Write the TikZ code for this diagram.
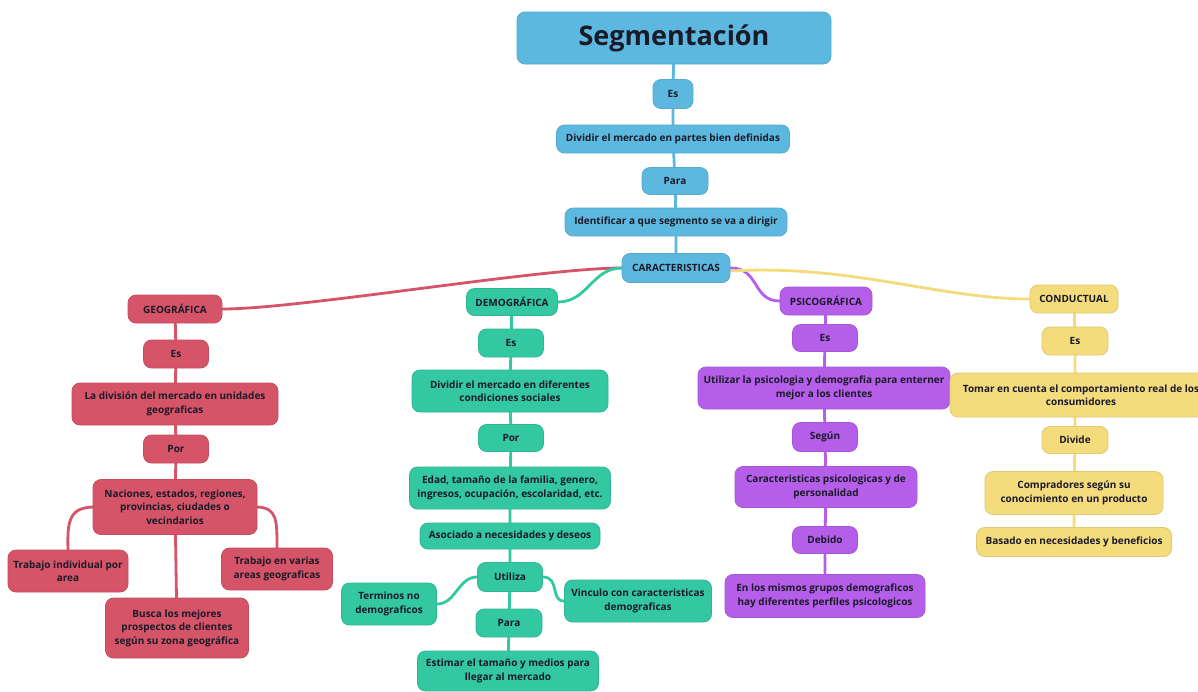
\documentclass[tikz,border=0pt]{standalone}
\usepackage{fontspec}
\setmainfont{Open Sans}
\usepackage{tikz}
\usetikzlibrary{backgrounds}
\definecolor{cBlue}{HTML}{5DB8DF}
\definecolor{cRed}{HTML}{D65468}
\definecolor{cGreen}{HTML}{33C7A2}
\definecolor{cPurple}{HTML}{B45EEA}
\definecolor{cYellow}{HTML}{F4DB7C}
\definecolor{cText}{HTML}{1A1A28}
\tikzset{
  box/.style   ={draw, rounded corners=8pt, align=center, inner sep=2pt, line width=0.8pt, text=cText, font=\fontsize{10}{13.5}\selectfont\bfseries},
  sz/.style 2 args={minimum width=#1pt, minimum height=#2pt},
  blu/.style   ={box, fill=cBlue, draw=cBlue!92!black},
  rd/.style    ={box, fill=cRed, draw=cRed!92!black},
  grn/.style   ={box, fill=cGreen, draw=cGreen!92!black},
  pur/.style   ={box, fill=cPurple, draw=cPurple!92!black},
  yel/.style   ={box, fill=cYellow, draw=cYellow!92!black},
  head/.style  ={font=\fontsize{10}{12}\selectfont\bfseries},
  lnk/.style   ={line width=2.8pt, line cap=round},
}

\begin{document}
\begin{tikzpicture}[x=1pt, y=-1pt]
  \useasboundingbox (0,0) rectangle (1198,691);
  % --- tronco: segmentacion ---
  \node[blu, sz={314}{52}, font=\fontsize{27}{30}\selectfont\bfseries] (seg) at (674,38) {Segmentación};
  \node[blu, sz={40}{29}] (bEs)   at (673,94)  {Es};
  \node[blu, sz={233}{28}] (bDiv) at (673,139) {Dividir el mercado en partes bien definidas};
  \node[blu, sz={66}{27}] (bPara) at (675,181) {Para};
  \node[blu, sz={222}{28}] (bIde) at (676,222) {Identificar a que segmento se va a dirigir};
  \node[blu, head, sz={108}{29}] (car) at (676,268) {CARACTERISTICAS};
  % --- geografica ---
  \node[rd, head, sz={94}{28}] (geo) at (175,309) {GEOGRÁFICA};
  \node[rd, sz={65}{28}]  (gEs)  at (176,354) {Es};
  \node[rd, sz={206}{42}] (gDiv) at (175,404) {La división del mercado en unidades\\geograficas};
  \node[rd, sz={65}{28}]  (gPor) at (176,449) {Por};
  \node[rd, sz={164}{55}] (gNac) at (175,507) {Naciones, estados, regiones,\\provincias, ciudades o\\vecindarios};
  \node[rd, sz={120}{42}] (gInd) at (68,571)  {Trabajo individual por\\area};
  \node[rd, sz={111}{42}] (gVar) at (277,569) {Trabajo en varias\\areas geograficas};
  \node[rd, sz={143}{60}] (gBus) at (177,628) {Busca los mejores\\prospectos de clientes\\según su zona geográfica};
  % --- demografica ---
  \node[grn, head, sz={91}{27}] (dem) at (512,302) {DEMOGRÁFICA};
  \node[grn, sz={65}{28}]  (dEs)  at (511,343) {Es};
  \node[grn, sz={196}{42}] (dDiv) at (510,391) {Dividir el mercado en diferentes\\condiciones sociales};
  \node[grn, sz={65}{27}]  (dPor) at (511,438) {Por};
  \node[grn, sz={201}{42}] (dEda) at (510,488) {Edad, tamaño de la familia, genero,\\ingresos, ocupación, escolaridad, etc.};
  \node[grn, sz={180}{26}] (dAso) at (510,536) {Asociado a necesidades y deseos};
  \node[grn, sz={65}{29}]  (dUti) at (510,577) {Utiliza};
  \node[grn, sz={95}{42}]  (dTer) at (389,604) {Terminos no\\demograficos};
  \node[grn, sz={147}{42}] (dVin) at (638,601) {Vinculo con caracteristicas\\demograficas};
  \node[grn, sz={66}{28}]  (dPara) at (509,623) {Para};
  \node[grn, sz={181}{40}] (dEst) at (508,671) {Estimar el tamaño y medios para\\llegar al mercado};
  % --- psicografica ---
  \node[pur, head, sz={92}{28}] (psi) at (826,301) {PSICOGRÁFICA};
  \node[pur, sz={65}{27}]  (pEs)  at (825,338) {Es};
  \node[pur, sz={252}{42}] (pUti) at (824,388) {Utilizar la psicologia y demografia para enterner\\mejor a los clientes};
  \node[pur, sz={65}{29}]  (pSeg) at (825,437) {Según};
  \node[pur, sz={182}{41}] (pCar) at (826,487) {Caracteristicas psicologicas y de\\personalidad};
  \node[pur, sz={65}{27}]  (pDeb) at (825,540) {Debido};
  \node[pur, sz={200}{43}] (pMis) at (825,596) {En los mismos grupos demograficos\\hay diferentes perfiles psicologicos};
  % --- conductual ---
  \node[yel, head, sz={88}{28}] (con) at (1074,299) {CONDUCTUAL};
  \node[yel, sz={66}{28}]  (cEs)  at (1075,341) {Es};
  \node[yel, sz={262}{44}] (cTom) at (1081,395) {Tomar en cuenta el comportamiento real de los\\consumidores};
  \node[yel, sz={66}{27}]  (cDiv) at (1075,440) {Divide};
  \node[yel, sz={178}{43}] (cCom) at (1074,493) {Compradores según su\\conocimiento en un producto};
  \node[yel, sz={195}{29}] (cBas) at (1074,542) {Basado en necesidades y beneficios};
  % --- conectores ---
  \begin{scope}[on background layer]
    \fill[white] (0,0) rectangle (1198,691);
    \draw[lnk, cBlue] (seg) -- (bEs) -- (bDiv) -- (bPara) -- (bIde) -- (car);
    \draw[lnk, cRed] (car.west) .. controls (540,268) and (300,309) .. (geo.east);
    \draw[lnk, cGreen] (car.west) .. controls (592,268) and (588,302) .. (dem.east);
    \draw[lnk, cPurple] (car.east) .. controls (760,268) and (752,301) .. (psi.west);
    \draw[lnk, cYellow] ([yshift=-3pt]car.east) .. controls (850,264) and (940,299) .. (con.west);
    \draw[lnk, cRed] (geo) -- (gEs) -- (gDiv) -- (gPor) -- (gNac) -- (gBus);
    \draw[lnk, cRed] (gNac.west) .. controls (70,508) and (67,520) .. (gInd.north);
    \draw[lnk, cRed] (gNac.east) .. controls (277,508) and (277,520) .. (gVar.north);
    \draw[lnk, cGreen] (dem) -- (dEs) -- (dDiv) -- (dPor) -- (dEda) -- (dAso) -- (dUti) -- (dPara) -- (dEst);
    \draw[lnk, cGreen] (dUti.west) .. controls (458,577) and (456,604) .. (dTer.east);
    \draw[lnk, cGreen] (dUti.east) .. controls (560,577) and (550,601) .. (dVin.west);
    \draw[lnk, cPurple] (psi) -- (pEs) -- (pUti) -- (pSeg) -- (pCar) -- (pDeb) -- (pMis);
    \draw[lnk, cYellow] (con) -- (cEs) -- (cEs |- cTom.north);
    \draw[lnk, cYellow] (cDiv |- cTom.south) -- (cDiv) -- (cCom) -- (cBas);
  \end{scope}
\end{tikzpicture}
\end{document}
